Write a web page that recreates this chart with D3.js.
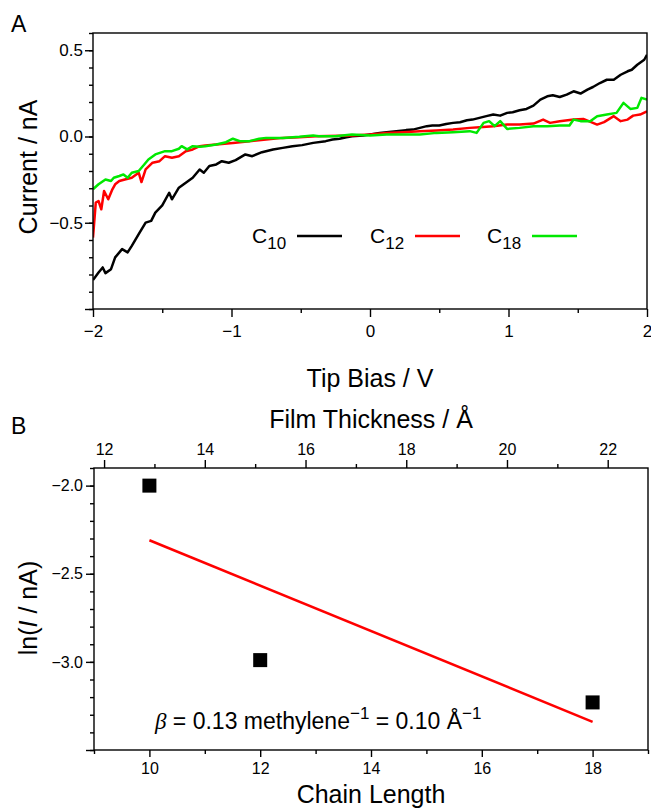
<!DOCTYPE html>
<html>
<head>
<meta charset="utf-8">
<script src="https://cdn.jsdelivr.net/npm/d3@7"></script>
<style>
  body { margin: 0; background: #fff; }
  text { font-family: "Liberation Sans", Arial, Helvetica, sans-serif; fill: #000; }
</style>
</head>
<body>
<div id="chart"></div>
<script>
// ---- panel A: I-V curves, [tip bias (V), current (nA)]
const c10 = [[-2.00,-0.832],[-1.96,-0.788],[-1.93,-0.759],[-1.91,-0.792],[-1.87,-0.769],[-1.84,-0.701],
  [-1.79,-0.653],[-1.75,-0.672],[-1.72,-0.634],[-1.67,-0.566],[-1.62,-0.499],[-1.58,-0.489],[-1.55,-0.441],
  [-1.50,-0.399],[-1.45,-0.326],[-1.43,-0.364],[-1.38,-0.297],[-1.33,-0.268],[-1.28,-0.239],[-1.23,-0.191],
  [-1.20,-0.210],[-1.16,-0.171],[-1.11,-0.162],[-1.07,-0.143],[-1.02,-0.152],[-0.97,-0.137],[-0.90,-0.104],
  [-0.85,-0.114],[-0.78,-0.091],[-0.70,-0.075],[-0.63,-0.066],[-0.56,-0.056],[-0.49,-0.050],[-0.41,-0.037],
  [-0.32,-0.027],[-0.27,-0.017],[-0.22,-0.013],[-0.17,-0.004],[-0.13,0.002],[-0.05,0.006],[0.00,0.012],
  [0.07,0.021],[0.12,0.025],[0.19,0.031],[0.26,0.037],[0.31,0.040],[0.36,0.050],[0.41,0.060],[0.45,0.064],
  [0.50,0.064],[0.55,0.073],[0.60,0.079],[0.65,0.083],[0.70,0.094],[0.74,0.098],[0.79,0.108],[0.84,0.118],
  [0.89,0.127],[0.94,0.121],[0.99,0.137],[1.03,0.141],[1.08,0.152],[1.13,0.160],[1.18,0.179],[1.23,0.214],
  [1.28,0.233],[1.32,0.239],[1.37,0.229],[1.42,0.243],[1.47,0.262],[1.52,0.249],[1.57,0.272],[1.61,0.287],
  [1.66,0.310],[1.71,0.329],[1.76,0.329],[1.81,0.358],[1.86,0.378],[1.89,0.387],[1.93,0.416],[1.98,0.445],
  [2.00,0.474]];
const c12 = [[-2.00,-0.586],[-1.98,-0.383],[-1.96,-0.374],[-1.94,-0.422],[-1.92,-0.316],[-1.89,-0.364],
  [-1.86,-0.306],[-1.84,-0.277],[-1.81,-0.258],[-1.77,-0.249],[-1.72,-0.239],[-1.67,-0.210],[-1.65,-0.264],
  [-1.62,-0.191],[-1.57,-0.152],[-1.52,-0.143],[-1.48,-0.114],[-1.43,-0.123],[-1.38,-0.114],[-1.33,-0.085],
  [-1.28,-0.075],[-1.23,-0.056],[-1.19,-0.052],[-1.11,-0.046],[-0.99,-0.037],[-0.87,-0.027],[-0.75,-0.017],
  [-0.63,-0.008],[-0.51,-0.004],[-0.39,0.002],[-0.13,0.006],[0.00,0.012],[0.12,0.021],[0.24,0.025],
  [0.36,0.031],[0.48,0.035],[0.60,0.040],[0.72,0.050],[0.79,0.054],[0.89,0.060],[0.99,0.069],[1.08,0.069],
  [1.18,0.075],[1.25,0.098],[1.30,0.079],[1.37,0.089],[1.47,0.098],[1.54,0.102],[1.64,0.069],[1.69,0.083],
  [1.76,0.118],[1.81,0.089],[1.86,0.098],[1.90,0.121],[1.95,0.127],[2.00,0.146]];
const c18 = [[-2.00,-0.306],[-1.96,-0.277],[-1.91,-0.249],[-1.87,-0.258],[-1.85,-0.239],[-1.81,-0.229],
  [-1.78,-0.220],[-1.75,-0.239],[-1.72,-0.210],[-1.67,-0.200],[-1.63,-0.162],[-1.60,-0.133],[-1.55,-0.104],
  [-1.48,-0.085],[-1.43,-0.085],[-1.38,-0.071],[-1.36,-0.056],[-1.32,-0.075],[-1.28,-0.056],[-1.23,-0.060],
  [-1.19,-0.056],[-1.11,-0.046],[-1.04,-0.033],[-0.99,-0.013],[-0.94,-0.027],[-0.87,-0.027],[-0.80,-0.013],
  [-0.75,-0.008],[-0.63,-0.008],[-0.51,-0.002],[-0.41,0.006],[-0.37,0.002],[-0.25,0.002],[-0.13,0.012],
  [0.00,0.006],[0.12,0.012],[0.24,0.012],[0.36,0.012],[0.48,0.021],[0.60,0.025],[0.72,0.031],[0.77,0.021],
  [0.82,0.079],[0.86,0.089],[0.90,0.060],[0.94,0.089],[0.99,0.044],[1.08,0.050],[1.18,0.060],[1.28,0.060],
  [1.37,0.064],[1.44,0.064],[1.47,0.098],[1.52,0.089],[1.59,0.089],[1.64,0.118],[1.71,0.127],[1.78,0.137],
  [1.83,0.195],[1.88,0.160],[1.93,0.166],[1.96,0.224],[2.00,0.214]];
const seriesData = [c10, c12, c18];
const seriesSub = ["10", "12", "18"];
const seriesColor = ["#000000", "#ff0000", "#00e800"];

const biasTicks = [-2, -1, 0, 1, 2];
const biasMinor = [-1.5, -0.5, 0.5, 1.5];
const currentTicks = [-1.0, -0.5, 0.0, 0.5];
const currentLabels = ["", "\u22120.5", "0.0", "0.5"];

// ---- panel B: ln(I) vs chain length
const chainLength = [10, 12, 18];
const lnCurrent = [-2.0, -2.99, -3.23];
const fitChain = [10, 18];
const fitLn = [-2.31, -3.34];
const chainTicks = [10, 12, 14, 16, 18];
const chainMinor = [9, 11, 13, 15, 17, 19];
const thickTicks = [12, 14, 16, 18, 20, 22];
const thickMinor = [13, 15, 17, 19, 21];
const lnTicks = [-3.5, -3.0, -2.5, -2.0];
const lnLabels = ["", "\u22123.0", "\u22122.5", "\u22122.0"];

const svg = d3.select("#chart").append("svg")
  .attr("width", 651).attr("height", 809);

const tenths = (lo, hi) => d3.range(lo, hi + 1).map(d => d / 10);

function styleAxis(g, size) {
  g.attr("font-family", null).attr("font-size", null);
  g.select(".domain").remove();
  g.selectAll(".tick line").attr("stroke", "#000").attr("stroke-width", 1.4);
  g.selectAll(".tick text").style("font-size", size + "px");
}

// ================= panel A
const pa = {l: 93, r: 647, t: 33, b: 309};
const xA = d3.scaleLinear().domain([-2, 2]).range([pa.l, pa.r]);
const yA = d3.scaleLinear().domain([-1.0, 0.6]).range([pa.b, pa.t]);

svg.append("defs").append("clipPath").attr("id", "clipA")
  .append("rect").attr("x", pa.l).attr("y", pa.t)
  .attr("width", pa.r - pa.l).attr("height", pa.b - pa.t);

const lineA = d3.line().x(d => xA(d[0])).y(d => yA(d[1]));
svg.append("g").attr("clip-path", "url(#clipA)")
  .selectAll("path").data(seriesData).enter().append("path")
  .attr("d", lineA)
  .attr("fill", "none")
  .attr("stroke", (d, i) => seriesColor[i])
  .attr("stroke-width", 2.5)
  .attr("stroke-linejoin", "round");

svg.append("rect").attr("x", pa.l).attr("y", pa.t)
  .attr("width", pa.r - pa.l).attr("height", pa.b - pa.t)
  .attr("fill", "none").attr("stroke", "#000").attr("stroke-width", 1.4);

svg.append("g").attr("transform", `translate(0,${pa.b})`)
  .call(d3.axisBottom(xA).tickValues(biasMinor).tickSize(4).tickFormat(""))
  .call(g => styleAxis(g, 17));
svg.append("g").attr("transform", `translate(0,${pa.b})`)
  .call(d3.axisBottom(xA).tickValues(biasTicks).tickSize(8).tickPadding(8)
    .tickFormat(d3.format("d")))
  .call(g => styleAxis(g, 17));
svg.append("g").attr("transform", `translate(${pa.l},0)`)
  .call(d3.axisLeft(yA).tickValues(tenths(-10, 6)).tickSize(4).tickFormat(""))
  .call(g => styleAxis(g, 17));
svg.append("g").attr("transform", `translate(${pa.l},0)`)
  .call(d3.axisLeft(yA).tickValues(currentTicks).tickSize(8).tickPadding(2)
    .tickFormat((d, i) => currentLabels[i]))
  .call(g => styleAxis(g, 17));

svg.append("text").attr("x", 11).attr("y", 32).style("font-size", "23px").text("A");
svg.append("text").attr("x", 370).attr("y", 387).attr("text-anchor", "middle")
  .style("font-size", "25px").text("Tip Bias / V");
svg.append("text").attr("transform", "translate(37,167) rotate(-90)")
  .attr("text-anchor", "middle").style("font-size", "25px").text("Current / nA");

// legend
const legX = [252, 370, 487];
const leg = svg.selectAll("g.leg").data(seriesSub).enter().append("g")
  .attr("class", "leg").attr("transform", (d, i) => `translate(${legX[i]},243)`);
const legText = leg.append("text").style("font-size", "21px");
legText.append("tspan").text("C");
legText.append("tspan").attr("dy", 6).style("font-size", "17px").text(d => d);
leg.append("line").attr("x1", 45).attr("x2", 90).attr("y1", -7).attr("y2", -7)
  .attr("stroke", (d, i) => seriesColor[i]).attr("stroke-width", 2.5);

// ================= panel B
const pb = {l: 94, r: 648, t: 468, b: 750};
const xB = d3.scaleLinear().domain([9, 19]).range([pb.l, pb.r]);
const xT = d3.scaleLinear().domain([11.8, 22.8]).range([pb.l, pb.r]);
const yB = d3.scaleLinear().domain([-3.5, -1.9]).range([pb.b, pb.t]);

svg.append("rect").attr("x", pb.l).attr("y", pb.t)
  .attr("width", pb.r - pb.l).attr("height", pb.b - pb.t)
  .attr("fill", "none").attr("stroke", "#000").attr("stroke-width", 1.4);

svg.append("g").attr("transform", `translate(0,${pb.b})`)
  .call(d3.axisBottom(xB).tickValues(chainMinor).tickSize(4).tickFormat(""))
  .call(g => styleAxis(g, 16));
svg.append("g").attr("transform", `translate(0,${pb.b})`)
  .call(d3.axisBottom(xB).tickValues(chainTicks).tickSize(7).tickPadding(6)
    .tickFormat(d3.format("d")))
  .call(g => styleAxis(g, 16));
svg.append("g").attr("transform", `translate(0,${pb.t})`)
  .call(d3.axisTop(xT).tickValues(thickMinor).tickSize(4).tickFormat(""))
  .call(g => styleAxis(g, 16));
svg.append("g").attr("transform", `translate(0,${pb.t})`)
  .call(d3.axisTop(xT).tickValues(thickTicks).tickSize(8).tickPadding(5)
    .tickFormat(d3.format("d")))
  .call(g => styleAxis(g, 16));
svg.append("g").attr("transform", `translate(${pb.l},0)`)
  .call(d3.axisLeft(yB).tickValues(tenths(-35, -19)).tickSize(4).tickFormat(""))
  .call(g => styleAxis(g, 16));
svg.append("g").attr("transform", `translate(${pb.l},0)`)
  .call(d3.axisLeft(yB).tickValues(lnTicks).tickSize(8).tickPadding(3)
    .tickFormat((d, i) => lnLabels[i]))
  .call(g => styleAxis(g, 16));

// fit line
svg.append("path")
  .datum(d3.zip(fitChain, fitLn))
  .attr("d", d3.line().x(d => xB(d[0])).y(d => yB(d[1])))
  .attr("fill", "none").attr("stroke", "#ff0000").attr("stroke-width", 2.5);

// data squares
const sq = 14;
svg.selectAll("rect.pt").data(d3.zip(chainLength, lnCurrent)).enter().append("rect")
  .attr("class", "pt")
  .attr("x", d => xB(d[0]) - sq / 2).attr("y", d => yB(d[1]) - sq / 2)
  .attr("width", sq).attr("height", sq).attr("fill", "#000");

svg.append("text").attr("x", 11).attr("y", 434).style("font-size", "23px").text("B");
svg.append("text").attr("x", 371).attr("y", 428).attr("text-anchor", "middle")
  .style("font-size", "25px").text("Film Thickness / \u00c5");
svg.append("text").attr("x", 371).attr("y", 803).attr("text-anchor", "middle")
  .style("font-size", "25px").text("Chain Length");

const yl = svg.append("text").attr("transform", "translate(37,608) rotate(-90)")
  .attr("text-anchor", "middle").style("font-size", "25px");
yl.append("tspan").text("ln(");
yl.append("tspan").style("font-style", "italic").text("I");
yl.append("tspan").text(" / nA)");

// beta annotation
const ann = svg.append("text").attr("x", 155).attr("y", 729).style("font-size", "23px");
ann.append("tspan").style("font-style", "italic")
  .style("font-family", "'Liberation Serif', 'DejaVu Serif', serif").text("\u03b2");
ann.append("tspan").text(" = 0.13 methylene");
ann.append("tspan").attr("dy", -10).style("font-size", "17px").text("\u22121");
ann.append("tspan").attr("dy", 10).text(" = 0.10 \u00c5");
ann.append("tspan").attr("dy", -10).style("font-size", "17px").text("\u22121");
</script>
</body>
</html>
